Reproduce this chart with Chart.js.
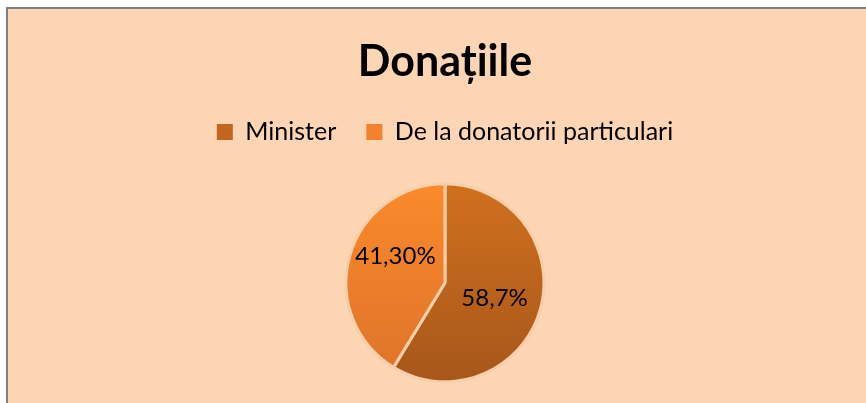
<!DOCTYPE html>
<html>
<head>
<meta charset="utf-8">
<script src="https://cdn.jsdelivr.net/npm/chart.js@4.4.1/dist/chart.umd.min.js"></script>
<style>
    html, body { margin: 0; padding: 0; background: #ffffff; overflow: hidden; }
    #frame {
        position: absolute;
        left: 6px;
        top: 7px;
        width: 880px;
        height: 420px;
        background: #fcd5b4;
        border-left: 2px solid #808080;
        border-top: 2px solid #808080;
    }
    #wrap { position: absolute; left: 0; top: 0; width: 874px; height: 410px; }
</style>
</head>
<body>
<div id="frame"><div id="wrap"><canvas id="pieChart"></canvas></div></div>
<script>
const chartTitle = 'Donațiile';
const categories = ['Minister', 'De la donatorii particulari'];
const shares = [58.7, 41.3];
const shareLabels = ['58,7%', '41,30%'];

// top / bottom colours of each slice gradient
const gradTop = ['#d6741f', '#ff8d2c'];
const gradBottom = ['#a1531a', '#d9702a'];
const legendColors = ['#c2651d', '#f4822a'];

function sliceFill(context) {
    const chart = context.chart;
    const area = chart.chartArea;
    const i = context.dataIndex;
    if (!area) return gradTop[i];
    const meta = chart.getDatasetMeta(0);
    const arc = meta.data[i];
    let top = area.top, bottom = area.bottom;
    if (arc && arc.outerRadius) {
        top = arc.y - arc.outerRadius;
        bottom = arc.y + arc.outerRadius;
    }
    const g = chart.ctx.createLinearGradient(0, top, 0, bottom);
    g.addColorStop(0, gradTop[i]);
    g.addColorStop(1, gradBottom[i]);
    return g;
}

// draws the percentage labels inside the slices
const sliceLabels = {
    id: 'sliceLabels',
    afterDatasetsDraw(chart) {
        const ctx = chart.ctx;
        const meta = chart.getDatasetMeta(0);
        ctx.save();
        ctx.font = '24px Lato, sans-serif';
        ctx.fillStyle = '#000000';
        ctx.textAlign = 'center';
        ctx.textBaseline = 'middle';
        meta.data.forEach((arc, i) => {
            const mid = (arc.startAngle + arc.endAngle) / 2;
            const r = arc.outerRadius * 0.52;
            const x = arc.x + Math.cos(mid) * r;
            const y = arc.y + Math.sin(mid) * r + (i === 1 ? -13 : 2);
            ctx.fillText(shareLabels[i], x, y);
        });
        ctx.restore();
    }
};

new Chart(document.getElementById('pieChart'), {
    type: 'pie',
    data: {
        labels: categories,
        datasets: [{
            data: shares,
            backgroundColor: sliceFill,
            borderColor: '#f6cfaa',
            borderWidth: 3
        }]
    },
    options: {
        responsive: true,
        maintainAspectRatio: false,
        animation: false,
        radius: 99,
        layout: { padding: { top: 0, bottom: 8, left: 3, right: 3 } },
        plugins: {
            title: {
                display: true,
                text: chartTitle,
                color: '#000000',
                font: { family: 'Lato, sans-serif', size: 43, weight: 'bold' },
                padding: { top: 27, bottom: 2 }
            },
            legend: {
                position: 'top',
                labels: {
                    color: '#000000',
                    font: { family: 'Lato, sans-serif', size: 25 },
                    boxWidth: 16,
                    boxHeight: 16,
                    padding: 30,
                    generateLabels: (chart) => categories.map((c, i) => ({
                        text: c,
                        fillStyle: legendColors[i],
                        strokeStyle: legendColors[i],
                        lineWidth: 0,
                        index: i
                    }))
                }
            },
            tooltip: { enabled: false }
        }
    },
    plugins: [sliceLabels]
});
</script>
</body>
</html>
